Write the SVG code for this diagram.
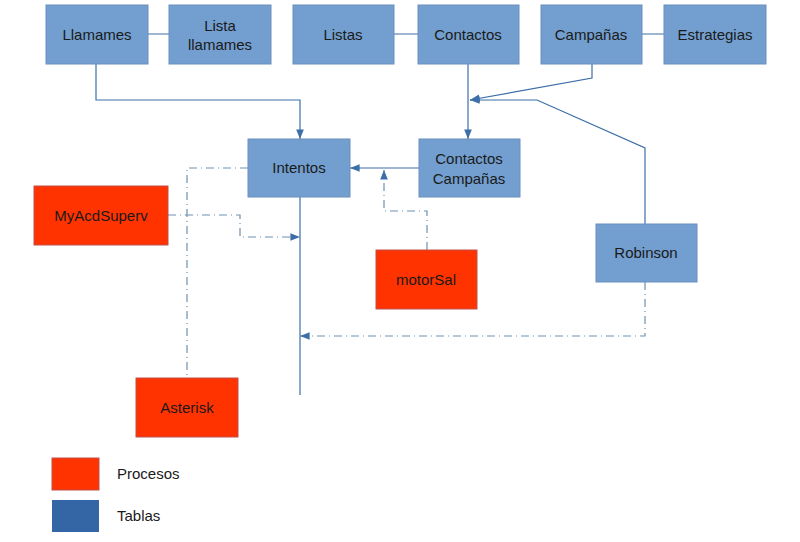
<svg xmlns="http://www.w3.org/2000/svg" width="800" height="542" viewBox="0 0 800 542">
<style>
.t{fill:#729fcf;stroke:#6a8fbf;stroke-width:1}
.p{fill:#ff3300;stroke:#c0504d;stroke-width:1}
text{font-family:"Liberation Sans",Arial,sans-serif;font-size:15px;fill:#1a1a1a;text-anchor:middle}
.c{fill:none;stroke:#3c6ea8;stroke-width:1.2}
.d{fill:none;stroke:#6f8fb0;stroke-width:1.2;stroke-dasharray:8,4,1,4}
</style>
<defs><marker id="a" viewBox="0 0 10 10" refX="10" refY="5" markerWidth="8" markerHeight="8" orient="auto"><path d="M0,1L10,5L0,9z" fill="#3c6ea8"/></marker></defs>
<rect width="800" height="542" fill="#fff"/>
<g id="connectors">
<path class="c" d="M148,34H169M394,34H418M642,34H664"/>
<path class="c" d="M96,64V100H300V139" marker-end="url(#a)"/>
<path class="c" d="M468,64V139" marker-end="url(#a)"/>
<path class="c" d="M592,64V78L470,100" marker-end="url(#a)"/>
<path class="c" d="M645,224V148L537,100H470" marker-end="url(#a)"/>
<path class="c" d="M419,168H350" marker-end="url(#a)"/>
<path class="c" d="M300,197V395"/>
<path class="d" d="M427,250V211H384V170" marker-end="url(#a)"/>
<path class="d" d="M248,168H187V378"/>
<path class="d" d="M168,215H240V237H300" marker-end="url(#a)"/>
<path class="d" d="M645,282V336H300" marker-end="url(#a)"/>
</g>
<g id="llamames"><rect class="t" x="46" y="5" width="102" height="59"/><text x="97" y="40">Llamames</text></g>
<g id="lista"><rect class="t" x="169" y="5" width="102" height="59"/><text x="220" y="31">Lista</text><text x="220" y="50">llamames</text></g>
<g id="listas"><rect class="t" x="293" y="5" width="101" height="59"/><text x="343" y="40">Listas</text></g>
<g id="contactos"><rect class="t" x="418" y="5" width="101" height="59"/><text x="468" y="40">Contactos</text></g>
<g id="campanas"><rect class="t" x="541" y="5" width="101" height="59"/><text x="591" y="40">Campañas</text></g>
<g id="estrategias"><rect class="t" x="664" y="5" width="102" height="59"/><text x="715" y="40">Estrategias</text></g>
<g id="intentos"><rect class="t" x="248" y="139" width="102" height="58"/><text x="299" y="173">Intentos</text></g>
<g id="cc"><rect class="t" x="419" y="139" width="101" height="58"/><text x="469" y="164">Contactos</text><text x="469" y="184">Campañas</text></g>
<g id="myacd"><rect class="p" x="34" y="186" width="134" height="59"/><text x="101" y="221">MyAcdSuperv</text></g>
<g id="motorsal"><rect class="p" x="376" y="250" width="101" height="59"/><text x="426" y="285">motorSal</text></g>
<g id="robinson"><rect class="t" x="596" y="224" width="101" height="58"/><text x="646" y="258">Robinson</text></g>
<g id="asterisk"><rect class="p" x="136" y="378" width="102" height="59"/><text x="187" y="413">Asterisk</text></g>
<g id="legend">
<rect class="p" x="52" y="458" width="47" height="32"/><text x="117" y="479" style="text-anchor:start">Procesos</text>
<rect x="52" y="500" width="47" height="32" fill="#3465a4"/><text x="117" y="521" style="text-anchor:start">Tablas</text>
</g>
</svg>
